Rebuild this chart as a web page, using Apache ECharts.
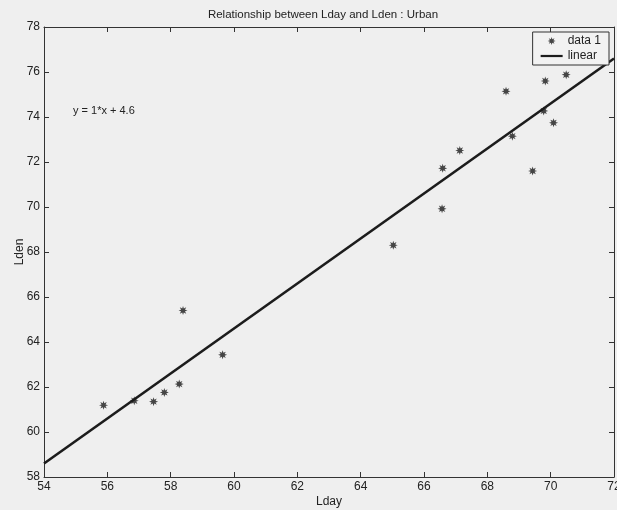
<!DOCTYPE html>
<html>
<head>
<meta charset="utf-8">
<script src="https://cdn.jsdelivr.net/npm/echarts@6/dist/echarts.min.js"></script>
<style>
  html, body { margin: 0; padding: 0; background: #efefef; }
  #chart { width: 617px; height: 510px; }
</style>
</head>
<body>
<div id="chart"></div>
<script>
// Measured day-time level (Lday) against day-evening-night level (Lden), urban sites
const lday = [55.88, 56.85, 57.46, 57.80, 58.27, 58.39, 59.64, 65.03, 66.57, 66.59,
              67.13, 68.59, 68.79, 69.43, 69.78, 69.83, 70.09, 70.49];
const lden = [61.19, 61.39, 61.35, 61.76, 62.13, 65.40, 63.43, 68.30, 69.92, 71.72,
              72.51, 75.14, 73.15, 71.60, 74.27, 75.60, 73.74, 75.88];

// Fitted line y = 1*x + 4.6, end points over the axis range
const fitX = [54, 72];
const fitY = [58.6, 76.6];

const xTicks = [54, 56, 58, 60, 62, 64, 66, 68, 70, 72];
const yTicks = [58, 60, 62, 64, 66, 68, 70, 72, 74, 76, 78];

const titleText = 'Relationship between Lday and Lden : Urban';
const fitLabel = 'y = 1*x + 4.6';

// Eight-armed asterisk marker built as a filled star outline
function asteriskPath() {
  const pts = [];
  for (let k = 0; k < 16; k++) {
    const a = k * Math.PI / 8;
    const r = (k % 2 === 0) ? 10 : 4.8;
    pts.push((10 + r * Math.sin(a)).toFixed(2) + ' ' + (10 - r * Math.cos(a)).toFixed(2));
  }
  return 'path://M' + pts.join(' L') + ' Z';
}
const star = asteriskPath();
const barIcon = 'path://M0 0 H30 V3 H0 Z';

const ink = '#1a1a1a';
const font = '"Liberation Sans", Arial, sans-serif';

const chart = echarts.init(document.getElementById('chart'), null, { renderer: 'canvas' });

const axisCommon = {
  axisLine: { show: true, lineStyle: { color: '#333', width: 1 } },
  axisTick: { show: true, inside: true, length: 5, lineStyle: { color: '#333' } },
  splitLine: { show: false }
};

chart.setOption({
  backgroundColor: '#efefef',
  animation: false,
  textStyle: { fontFamily: font },
  title: {
    text: titleText,
    left: 318,
    textAlign: 'center',
    top: 4,
    textStyle: { fontSize: 11.5, fontWeight: 'normal', color: '#222', fontFamily: font }
  },
  grid: { left: 44, right: 3, top: 27, bottom: 33, containLabel: false, outerBoundsMode: 'none' },
  legend: {
    orient: 'vertical',
    right: 8,
    top: 32,
    padding: [3, 8, 3, 8],
    itemGap: 3,
    itemWidth: 22,
    itemHeight: 8,
    borderColor: '#333',
    borderWidth: 1,
    backgroundColor: '#f2f2f2',
    textStyle: { fontSize: 12, color: '#222', width: 42, align: 'right', fontFamily: font },
    data: [
      { name: 'data 1', icon: star },
      { name: 'linear', icon: barIcon }
    ]
  },
  xAxis: [
    Object.assign({}, axisCommon, {
      type: 'value', min: 54, max: 72, interval: 2, position: 'bottom',
      name: 'Lday', nameLocation: 'middle', nameGap: 19, nameMoveOverlap: false,
      nameTextStyle: { fontSize: 12, color: '#222', fontFamily: font },
      axisLabel: {
        fontSize: 12, color: '#222', margin: 4,
        formatter: v => xTicks.includes(v) ? String(v) : ''
      }
    }),
    Object.assign({}, axisCommon, {
      type: 'value', min: 54, max: 72, interval: 2, position: 'top',
      axisLabel: { show: false }
    })
  ],
  yAxis: [
    Object.assign({}, axisCommon, {
      type: 'value', min: 58, max: 78, interval: 2, position: 'left',
      name: 'Lden', nameLocation: 'middle', nameGap: 18, nameRotate: 90, nameMoveOverlap: false,
      nameTextStyle: { fontSize: 12, color: '#222', fontFamily: font },
      axisLabel: {
        fontSize: 12, color: '#222', margin: 4,
        formatter: v => yTicks.includes(v) ? String(v) : ''
      }
    }),
    Object.assign({}, axisCommon, {
      type: 'value', min: 58, max: 78, interval: 2, position: 'right',
      axisLabel: { show: false }
    })
  ],
  series: [
    {
      name: 'data 1',
      type: 'scatter',
      xAxisIndex: 0, yAxisIndex: 0,
      symbol: star,
      symbolSize: 9,
      itemStyle: { color: ink },
      data: lday.map((x, i) => [x, lden[i]]),
      z: 3
    },
    {
      name: 'linear',
      type: 'line',
      xAxisIndex: 0, yAxisIndex: 0,
      symbol: 'none',
      lineStyle: { color: '#1c1c1c', width: 2.6 },
      itemStyle: { color: '#1c1c1c' },
      data: fitX.map((x, i) => [x, fitY[i]]),
      z: 2
    }
  ],
  graphic: [
    {
      type: 'text',
      left: 73,
      top: 105,
      style: { text: fitLabel, fontSize: 11, fill: '#222', fontFamily: font }
    }
  ]
});
</script>
</body>
</html>
